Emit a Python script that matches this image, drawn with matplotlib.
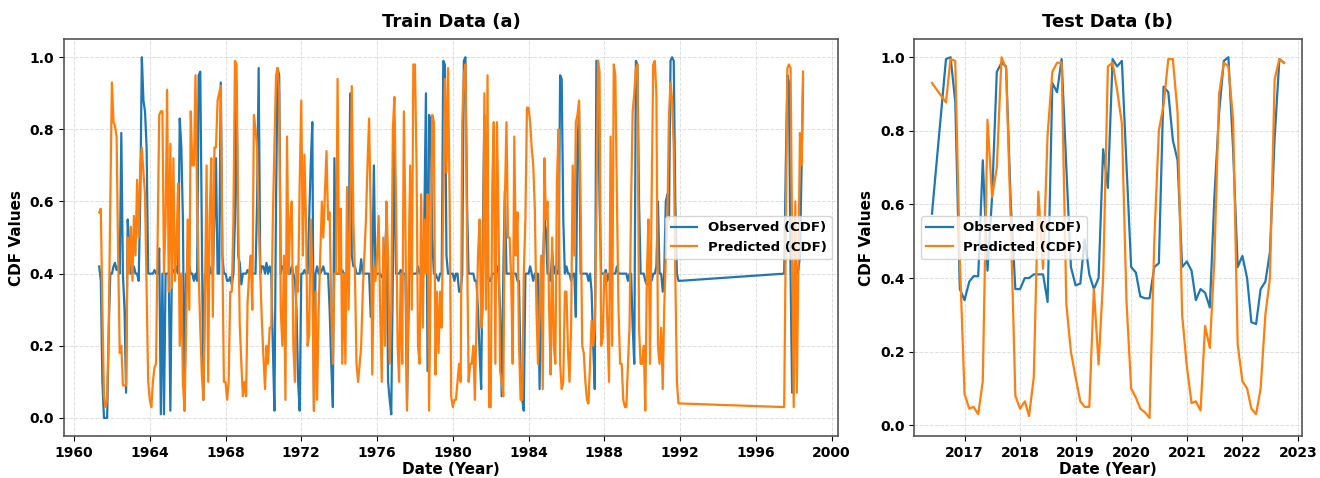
import matplotlib
matplotlib.use("Agg")
from matplotlib import pyplot as plt
import matplotlib.dates as mdates
import pandas as pd

# train period: monthly May 1961 - Jan 1992, then Jul 1997 - Jul 1998
train_dates = list(pd.date_range("1961-05-01", "1992-01-01", freq="MS")) + \
    list(pd.date_range("1997-07-01", "1998-07-01", freq="MS"))

obs_train = [
    0.42, 0.38, 0.10, 0.00, 0.00, 0.00, 0.25, 0.40,
    0.40, 0.42, 0.43, 0.41, 0.42, 0.40, 0.79, 0.40, 0.30, 0.07, 0.55, 0.48,
    0.40, 0.40, 0.42, 0.40, 0.40, 0.38, 0.60, 1.00, 0.88, 0.85, 0.75, 0.40,
    0.40, 0.40, 0.40, 0.41, 0.40, 0.40, 0.47, 0.01, 0.40, 0.01, 0.40, 0.40,
    0.40, 0.02, 0.40, 0.41, 0.40, 0.42, 0.40, 0.83, 0.75, 0.55, 0.02, 0.40,
    0.40, 0.42, 0.40, 0.40, 0.38, 0.40, 0.38, 0.95, 0.96, 0.50, 0.05, 0.40,
    0.40, 0.40, 0.42, 0.40, 0.40, 0.55, 0.72, 0.40, 0.40, 0.93, 0.45, 0.40,
    0.40, 0.38, 0.38, 0.39, 0.37, 0.40, 0.55, 0.92, 0.45, 0.43, 0.37, 0.40,
    0.40, 0.40, 0.41, 0.40, 0.42, 0.40, 0.40, 0.40, 0.60, 0.97, 0.40, 0.42,
    0.42, 0.40, 0.43, 0.40, 0.42, 0.40, 0.20, 0.02, 0.60, 0.97, 0.95, 0.40,
    0.42, 0.42, 0.40, 0.41, 0.40, 0.40, 0.42, 0.40, 0.38, 0.30, 0.10, 0.02,
    0.40, 0.40, 0.41, 0.40, 0.40, 0.55, 0.70, 0.82, 0.02, 0.40, 0.42, 0.40,
    0.40, 0.41, 0.42, 0.40, 0.40, 0.40, 0.30, 0.15, 0.03, 0.72, 0.40, 0.40,
    0.40, 0.40, 0.41, 0.40, 0.40, 0.40, 0.42, 0.90, 0.45, 0.42, 0.42, 0.40,
    0.40, 0.40, 0.44, 0.40, 0.40, 0.40, 0.40, 0.40, 0.28, 0.40, 0.70, 0.40,
    0.40, 0.40, 0.40, 0.39, 0.40, 0.45, 0.55, 0.10, 0.05, 0.01, 0.40, 0.82,
    0.40, 0.40, 0.40, 0.41, 0.40, 0.40, 0.40, 0.04, 0.30, 0.62, 0.40, 0.40,
    0.40, 0.40, 0.42, 0.40, 0.40, 0.40, 0.55, 0.90, 0.13, 0.84, 0.82, 0.50,
    0.40, 0.40, 0.39, 0.38, 0.40, 0.40, 0.99, 0.98, 0.45, 0.40, 0.40, 0.40,
    0.40, 0.38, 0.40, 0.40, 0.35, 0.35, 0.40, 0.99, 1.00, 0.60, 0.40, 0.40,
    0.40, 0.40, 0.38, 0.38, 0.30, 0.18, 0.08, 0.50, 0.84, 0.40, 0.40, 0.38,
    0.38, 0.40, 0.40, 0.40, 0.42, 0.40, 0.30, 0.06, 0.40, 0.63, 0.40, 0.40,
    0.40, 0.40, 0.40, 0.40, 0.40, 0.38, 0.38, 0.12, 0.05, 0.02, 0.40, 0.40,
    0.40, 0.42, 0.40, 0.38, 0.40, 0.40, 0.40, 0.08, 0.40, 0.40, 0.55, 0.52,
    0.40, 0.40, 0.38, 0.46, 0.40, 0.42, 0.40, 0.40, 0.95, 0.94, 0.55, 0.40,
    0.42, 0.40, 0.40, 0.38, 0.40, 0.40, 0.28, 0.75, 0.85, 0.40, 0.40, 0.40,
    0.40, 0.40, 0.38, 0.40, 0.35, 0.20, 0.08, 0.99, 0.99, 0.60, 0.40, 0.40,
    0.40, 0.41, 0.38, 0.40, 0.40, 0.40, 0.40, 0.40, 0.42, 0.40, 0.40, 0.40,
    0.40, 0.40, 0.40, 0.38, 0.40, 0.40, 0.25, 0.15, 0.99, 0.98, 0.60, 0.40,
    0.40, 0.40, 0.38, 0.37, 0.37, 0.38, 0.38, 0.40, 0.40, 0.42, 0.60, 0.40,
    0.40, 0.35, 0.40, 0.60, 0.62, 0.55, 0.99, 1.00, 0.99, 0.60, 0.40, 0.38,
    0.38,
    0.40, 0.70, 0.95, 0.93, 0.40, 0.07, 0.23, 0.45, 0.40, 0.41, 0.45, 0.69, 0.94,
]

pred_train = [
    0.57, 0.58, 0.30, 0.06, 0.03, 0.05, 0.25, 0.60,
    0.93, 0.82, 0.81, 0.78, 0.45, 0.18, 0.20, 0.09, 0.09, 0.09, 0.50, 0.40,
    0.53, 0.38, 0.56, 0.45, 0.66, 0.50, 0.70, 0.75, 0.68, 0.62, 0.35, 0.10,
    0.05, 0.03, 0.10, 0.14, 0.15, 0.50, 0.84, 0.85, 0.85, 0.40, 0.55, 0.91,
    0.35, 0.76, 0.36, 0.72, 0.38, 0.49, 0.65, 0.20, 0.40, 0.10, 0.02, 0.25,
    0.55, 0.30, 0.85, 0.70, 0.70, 0.95, 0.60, 0.40, 0.25, 0.12, 0.05, 0.35,
    0.70, 0.10, 0.55, 0.72, 0.28, 0.75, 0.75, 0.88, 0.90, 0.92, 0.45, 0.10,
    0.10, 0.05, 0.10, 0.35, 0.35, 0.55, 0.99, 0.98, 0.55, 0.26, 0.15, 0.06,
    0.10, 0.06, 0.32, 0.40, 0.45, 0.30, 0.84, 0.80, 0.75, 0.55, 0.40, 0.27,
    0.17, 0.08, 0.20, 0.15, 0.25, 0.25, 0.55, 0.75, 0.95, 0.97, 0.90, 0.30,
    0.20, 0.45, 0.05, 0.78, 0.40, 0.55, 0.60, 0.20, 0.10, 0.42, 0.35, 0.65,
    0.88, 0.45, 0.73, 0.55, 0.20, 0.23, 0.55, 0.40, 0.02, 0.35, 0.05, 0.30,
    0.45, 0.60, 0.50, 0.62, 0.74, 0.55, 0.57, 0.30, 0.15, 0.40, 0.40, 0.94,
    0.40, 0.58, 0.15, 0.40, 0.15, 0.64, 0.30, 0.55, 0.92, 0.55, 0.40, 0.15,
    0.10, 0.15, 0.20, 0.35, 0.45, 0.55, 0.70, 0.83, 0.56, 0.12, 0.42, 0.38,
    0.45, 0.56, 0.30, 0.10, 0.50, 0.20, 0.60, 0.45, 0.15, 0.30, 0.80, 0.89,
    0.60, 0.20, 0.10, 0.40, 0.15, 0.85, 0.55, 0.02, 0.40, 0.70, 0.30, 0.98,
    0.98, 0.70, 0.20, 0.15, 0.62, 0.25, 0.55, 0.40, 0.62, 0.02, 0.40, 0.84,
    0.82, 0.12, 0.35, 0.18, 0.35, 0.25, 0.60, 0.94, 0.68, 0.97, 0.60, 0.06,
    0.03, 0.05, 0.05, 0.10, 0.15, 0.10, 0.82, 0.95, 0.98, 0.50, 0.10, 0.15,
    0.15, 0.20, 0.05, 0.25, 0.45, 0.55, 0.25, 0.30, 0.90, 0.30, 0.95, 0.03,
    0.03, 0.65, 0.82, 0.15, 0.82, 0.55, 0.13, 0.10, 0.06, 0.60, 0.82, 0.50,
    0.50, 0.38, 0.15, 0.78, 0.45, 0.57, 0.20, 0.05, 0.05, 0.40, 0.55, 0.86,
    0.86, 0.82, 0.75, 0.70, 0.58, 0.30, 0.15, 0.30, 0.45, 0.08, 0.72, 0.55,
    0.60, 0.30, 0.12, 0.50, 0.20, 0.15, 0.65, 0.80, 0.15, 0.08, 0.10, 0.35,
    0.35, 0.18, 0.10, 0.25, 0.70, 0.45, 0.82, 0.84, 0.88, 0.60, 0.20, 0.18,
    0.10, 0.05, 0.04, 0.15, 0.27, 0.20, 0.25, 0.55, 0.99, 0.96, 0.20, 0.22,
    0.40, 0.40, 0.25, 0.10, 0.78, 0.20, 0.98, 0.95, 0.60, 0.30, 0.15, 0.15,
    0.05, 0.03, 0.03, 0.15, 0.25, 0.60, 0.85, 0.90, 0.97, 0.98, 0.25, 0.15,
    0.15, 0.20, 0.02, 0.40, 0.55, 0.15, 0.60, 0.98, 0.99, 0.90, 0.20, 0.15,
    0.25, 0.08, 0.30, 0.45, 0.55, 0.84, 0.93, 0.88, 0.75, 0.40, 0.10, 0.04,
    0.04,
    0.03, 0.50, 0.97, 0.98, 0.97, 0.50, 0.03, 0.60, 0.07, 0.42, 0.79, 0.70, 0.96,
]

# test period: Jun 2016, then monthly Sep 2016 - Oct 2022
test_dates = [pd.Timestamp("2016-06-01")] + \
    list(pd.date_range("2016-09-01", "2022-10-01", freq="MS"))

obs_test = [
    0.575,
    0.995, 1.00, 0.88, 0.37,
    0.34, 0.39, 0.405, 0.405, 0.72, 0.42, 0.62, 0.96, 0.985, 0.975, 0.60, 0.37,
    0.37, 0.40, 0.40, 0.41, 0.41, 0.41, 0.335, 0.93, 0.905, 0.995, 0.70, 0.43,
    0.38, 0.385, 0.505, 0.41, 0.37, 0.40, 0.75, 0.645, 0.995, 0.975, 0.99, 0.71,
    0.43, 0.415, 0.35, 0.345, 0.345, 0.43, 0.44, 0.92, 0.905, 0.775, 0.72, 0.43,
    0.445, 0.42, 0.34, 0.37, 0.36, 0.32, 0.62, 0.85, 0.99, 1.00, 0.75, 0.43,
    0.46, 0.40, 0.28, 0.275, 0.37, 0.39, 0.47, 0.78, 0.995, 0.985,
]

pred_test = [
    0.93,
    0.877, 0.995, 0.99, 0.45,
    0.085, 0.045, 0.05, 0.03, 0.12, 0.83, 0.62, 0.70, 1.00, 0.97, 0.55, 0.08,
    0.045, 0.065, 0.025, 0.13, 0.635, 0.425, 0.79, 0.96, 0.985, 0.985, 0.33, 0.20,
    0.13, 0.065, 0.05, 0.05, 0.37, 0.165, 0.40, 0.975, 0.985, 0.91, 0.82, 0.34,
    0.10, 0.075, 0.045, 0.035, 0.02, 0.50, 0.80, 0.87, 0.995, 0.995, 0.85, 0.30,
    0.16, 0.06, 0.065, 0.04, 0.27, 0.21, 0.45, 0.90, 0.985, 0.975, 0.83, 0.22,
    0.12, 0.10, 0.045, 0.03, 0.10, 0.30, 0.40, 0.94, 0.995, 0.985,
]

fig = plt.figure(figsize=(13.2, 4.78), dpi=100)
gs = fig.add_gridspec(1, 2, width_ratios=[2, 1], left=0.0485, right=0.986,
                      bottom=0.088, top=0.918, wspace=0.131)
ax1 = fig.add_subplot(gs[0])
ax2 = fig.add_subplot(gs[1])

panels = [
    (ax1, train_dates, obs_train, pred_train, "Train Data (a)", 4, "center right"),
    (ax2, test_dates, obs_test, pred_test, "Test Data (b)", 1, "center left"),
]

for ax, dates, obs, pred, title, step, loc in panels:
    ax.plot(dates, obs, color="#1f77b4", lw=1.6, label="Observed (CDF)")
    ax.plot(dates, pred, color="#ff7f0e", lw=1.6, label="Predicted (CDF)")
    ax.set_title(title, fontsize=13, fontweight="bold", pad=9)
    ax.set_xlabel("Date (Year)", fontsize=11, fontweight="bold", labelpad=2)
    ax.set_ylabel("CDF Values", fontsize=11, fontweight="bold")
    ax.xaxis.set_major_locator(mdates.YearLocator(step))
    ax.xaxis.set_major_formatter(mdates.DateFormatter("%Y"))
    ax.grid(True, linestyle="--", color="#d0d0d0", alpha=0.7, lw=0.7)
    for lab in ax.get_xticklabels() + ax.get_yticklabels():
        lab.set_fontweight("bold")
        lab.set_fontsize(10)
    for sp in ax.spines.values():
        sp.set_color("#555555")
        sp.set_linewidth(1.2)
    ax.legend(loc=loc, prop={"weight": "bold", "size": 9.5})

fig.savefig("out.png", dpi=100)
